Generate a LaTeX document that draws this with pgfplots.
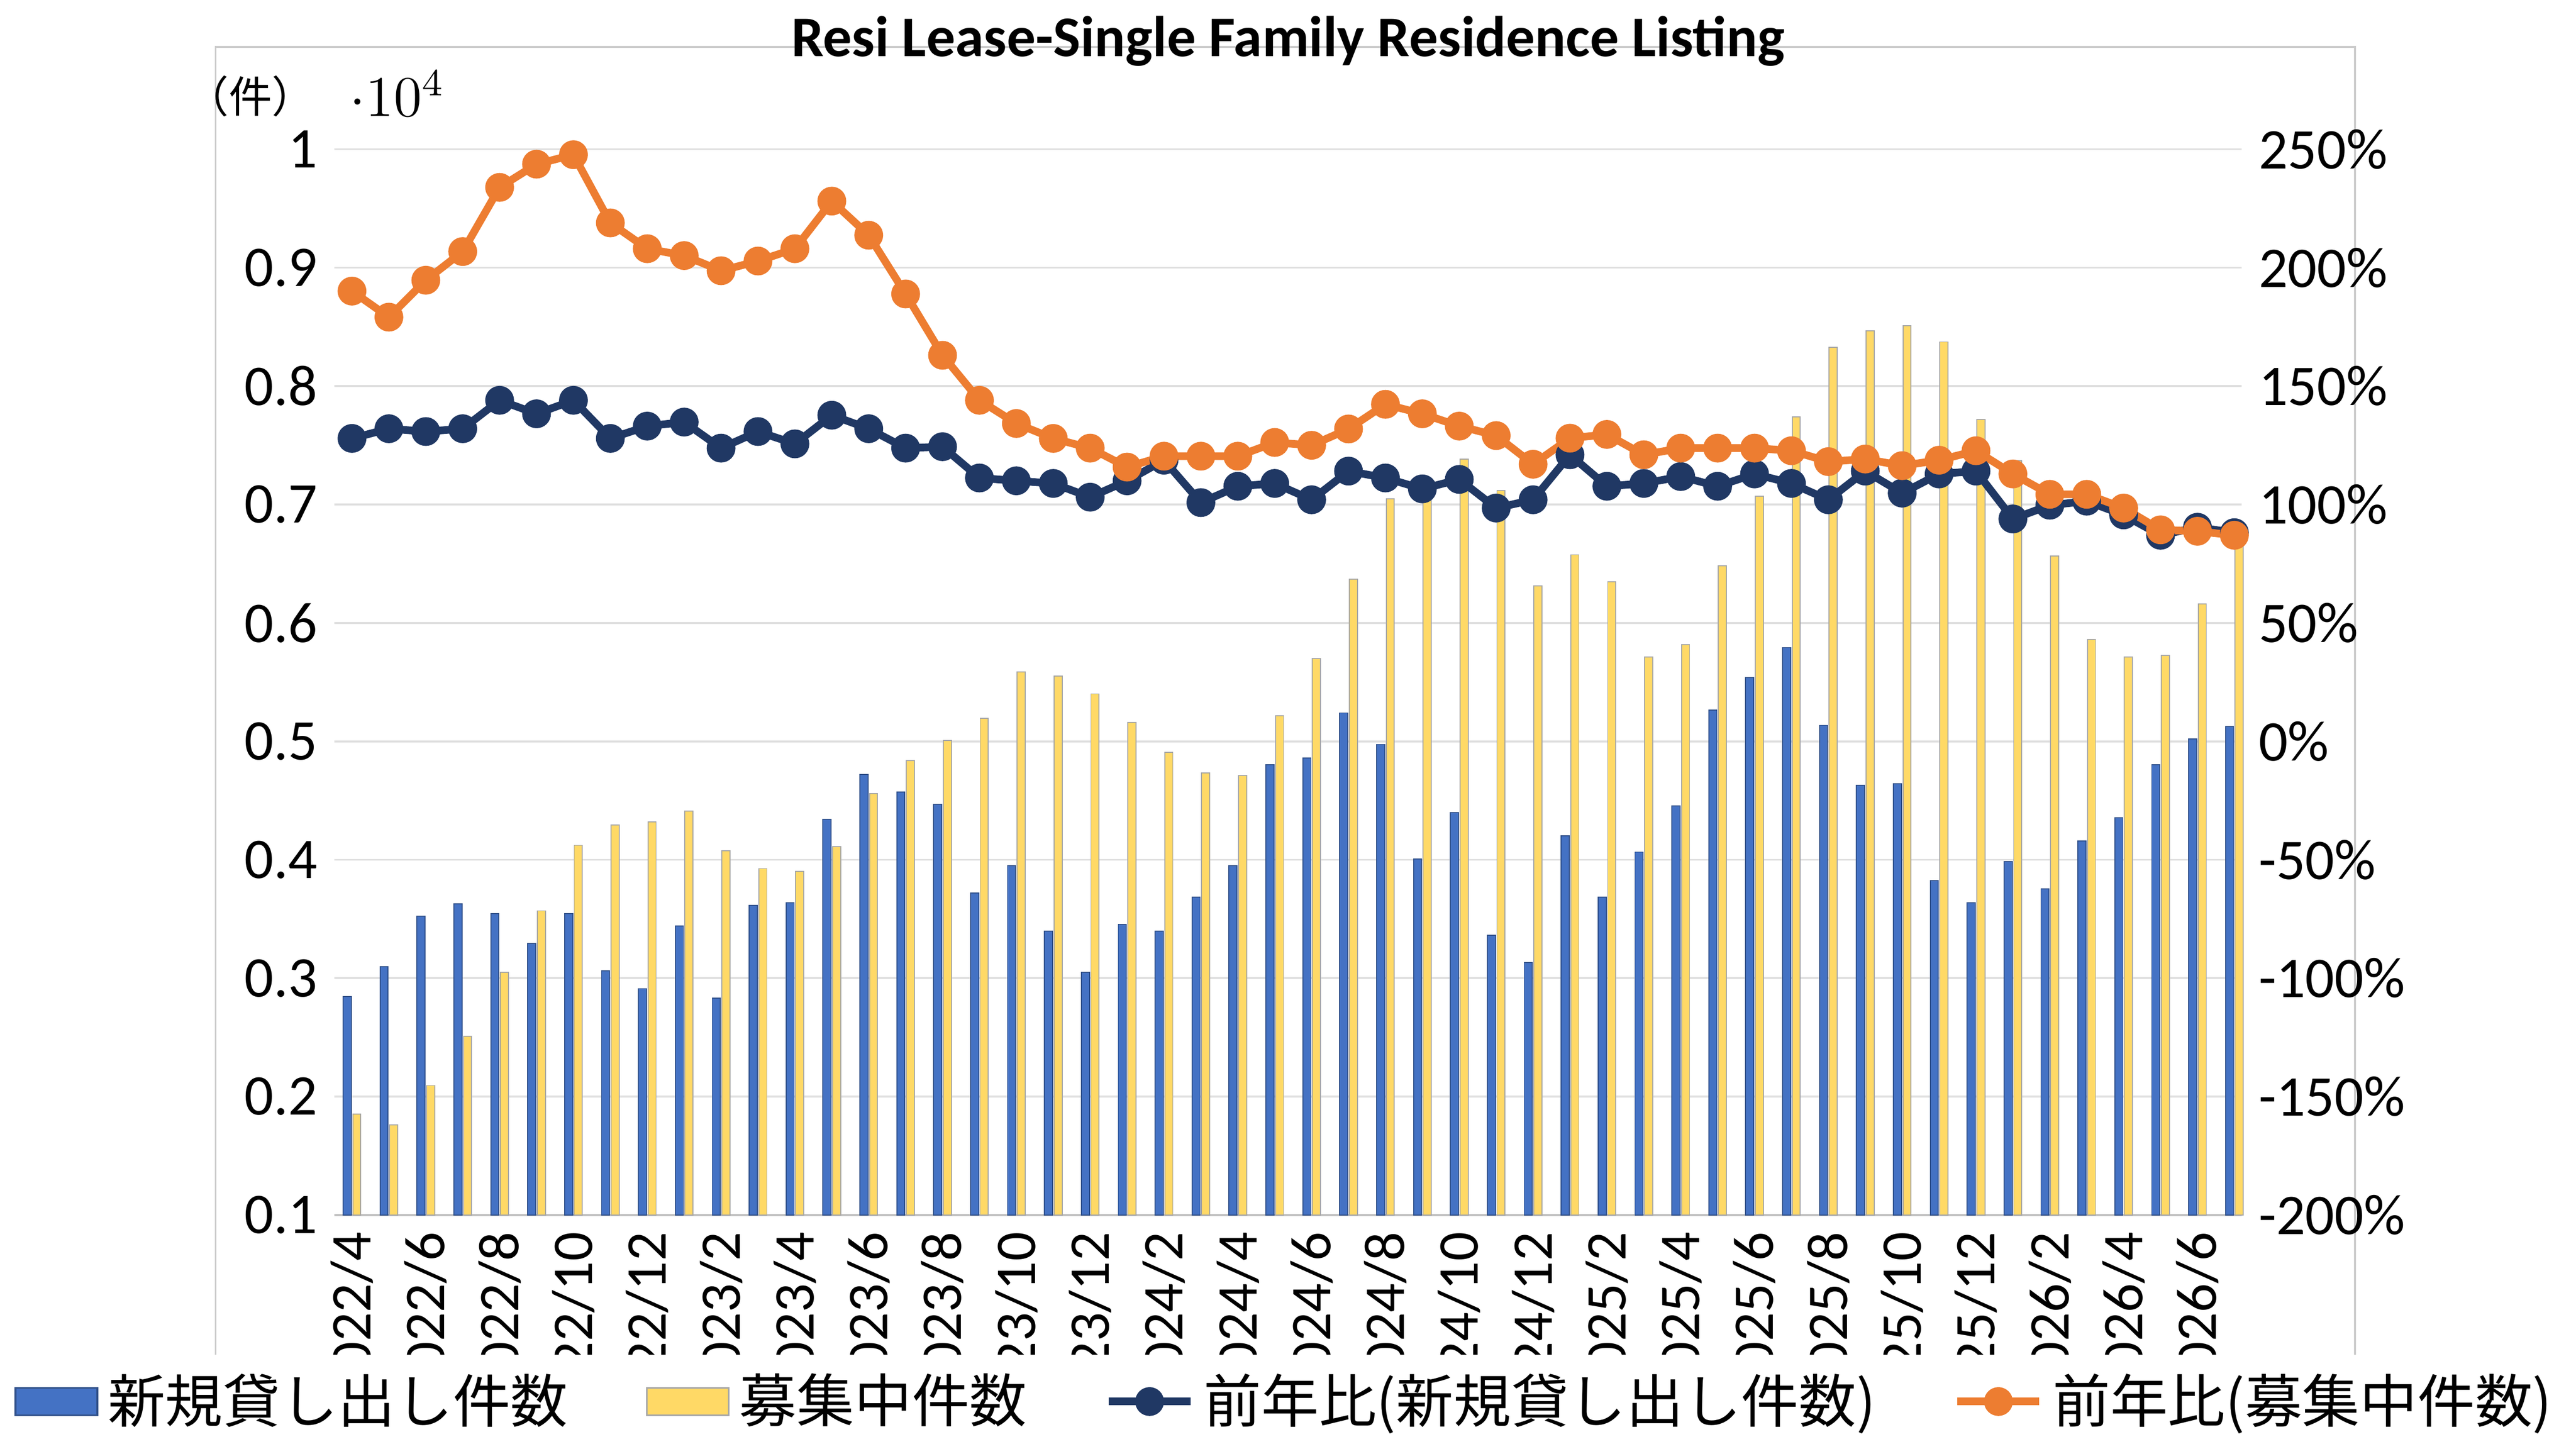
\documentclass[border=0pt]{standalone}
\usepackage{pgfplots}
\pgfplotsset{compat=1.18}
\usepackage{fontspec}
\setmainfont{Carlito}
\newfontfamily\cjk{Noto Sans CJK JP}
\definecolor{cblue}{HTML}{4472C4}
\definecolor{cyel}{HTML}{FFD966}
\definecolor{cnavy}{HTML}{203864}
\definecolor{corange}{HTML}{ED7D31}
\begin{document}
\begin{tikzpicture}
\draw[gray!40] (-0.87,-1.65) rectangle (14.81,8.56);
\begin{axis}[
 at={(0,0)}, anchor=south west, scale only axis,
 width=13.98cm, height=7.81cm,
 xmin=0.52, xmax=52.2, ymin=1000, ymax=10000,
 ytick={1000,2000,...,10000},
 /pgf/number format/assume math mode=true,
 /pgf/number format/fixed,
 /pgf/number format/1000 sep={,},
 xtick={1,3,...,51},
 xticklabels={2022/4,2022/6,2022/8,2022/10,2022/12,2023/2,2023/4,2023/6,2023/8,2023/10,2023/12,2024/2,2024/4,2024/6,2024/8,2024/10,2024/12,2025/2,2025/4,2025/6,2025/8,2025/10,2025/12,2026/2,2026/4,2026/6},
 xticklabel style={rotate=90, anchor=east, font=\large},
 yticklabel style={font=\large},
 tick style={draw=none},
 axis line style={draw=none},
 ymajorgrids, grid style={gray!25},
 axis x line*=bottom,
 x axis line style={draw=gray!50},
 title={\bfseries\large Resi Lease-Single Family Residence Listing},
 title style={at={(0.5,1.035)},anchor=south},
 clip=false,
]
\addplot[ybar, bar width=0.22, bar shift=-0.13, fill=cblue, draw=cblue!70!black, line width=0.2pt] coordinates {
(1,2843)(2,3097)(3,3523)(4,3627)(5,3546)(6,3293)(7,3546)(8,3062)(9,2912)(10,3442)
(11,2832)(12,3615)(13,3638)(14,4341)(15,4721)(16,4571)(17,4468)(18,3719)(19,3949)(20,3396)
(21,3051)(22,3454)(23,3396)(24,3684)(25,3949)(26,4802)(27,4860)(28,5240)(29,4975)(30,4007)
(31,4399)(32,3362)(33,3131)(34,4203)(35,3684)(36,4065)(37,4456)(38,5263)(39,5539)(40,5793)
(41,5136)(42,4629)(43,4640)(44,3823)(45,3638)(46,3984)(47,3753)(48,4157)(49,4353)(50,4802)
(51,5021)(52,5124)};
\addplot[ybar, bar width=0.22, bar shift=0.13, fill=cyel, draw=gray!70, line width=0.2pt] coordinates {
(1,1853)(2,1760)(3,2094)(4,2509)(5,3051)(6,3569)(7,4122)(8,4295)(9,4318)(10,4410)
(11,4076)(12,3926)(13,3903)(14,4111)(15,4560)(16,4836)(17,5009)(18,5194)(19,5585)(20,5551)
(21,5401)(22,5159)(23,4906)(24,4733)(25,4710)(26,5217)(27,5700)(28,6369)(29,7048)(30,7175)
(31,7382)(32,7117)(33,6311)(34,6576)(35,6346)(36,5712)(37,5816)(38,6484)(39,7071)(40,7740)
(41,8327)(42,8465)(43,8512)(44,8373)(45,7717)(46,7371)(47,6565)(48,5862)(49,5712)(50,5724)
(51,6161)(52,6714)};
\node[anchor=center, font=\cjk\small] at (rel axis cs:-0.044,1.05) {（件）};
\end{axis}
\begin{axis}[
 at={(0,0)}, anchor=south west, scale only axis,
 width=13.98cm, height=7.81cm,
 xmin=0.52, xmax=52.2, ymin=-200, ymax=250,
 ytick={-200,-150,...,250},
 /pgf/number format/assume math mode=true,
 yticklabel={\pgfmathprintnumber{\tick}\%},
 yticklabel style={font=\large},
 axis y line*=right, axis x line=none,
 tick style={draw=none}, axis line style={draw=none},
 legend style={at={(0.5,-0.175)}, anchor=center, draw=none, font=\cjk\large, legend columns=4, /tikz/every even column/.append style={column sep=0.5cm}},
 legend cell align=left,
]
\addlegendimage{area legend, fill=cblue, draw=cblue!70!black}
\addlegendentry{新規貸し出し件数}
\addlegendimage{area legend, fill=cyel, draw=gray!70}
\addlegendentry{募集中件数}
\addplot[cnavy, line width=1.6pt, mark=*, mark size=2.2pt] coordinates {
(1,127.9)(2,132)(3,130.8)(4,132)(5,144)(6,138.3)(7,144)(8,127.9)(9,133.1)(10,134.8)
(11,123.8)(12,130.8)(13,125.6)(14,137.7)(15,132)(16,123.8)(17,124.4)(18,111.2)(19,110)(20,108.9)
(21,103.1)(22,110)(23,118.7)(24,100.8)(25,107.7)(26,108.9)(27,102)(28,114.1)(29,111.2)(30,106.6)
(31,110.6)(32,98.5)(33,102)(34,121)(35,107.7)(36,108.9)(37,111.8)(38,107.7)(39,112.9)(40,108.9)
(41,102)(42,114.1)(43,104.8)(44,112.9)(45,114.1)(46,93.9)(47,99.7)(48,101.4)(49,95.6)(50,87)
(51,90.4)(52,88.1)};
\addlegendentry{前年比(新規貸し出し件数)}
\addplot[corange, line width=1.6pt, mark=*, mark size=2.2pt] coordinates {
(1,190.1)(2,179.1)(3,194.7)(4,206.8)(5,233.9)(6,243.7)(7,247.7)(8,218.9)(9,208)(10,205.1)
(11,198.7)(12,202.8)(13,208)(14,228.1)(15,213.7)(16,188.9)(17,163)(18,144)(19,134.2)(20,127.9)
(21,123.8)(22,115.8)(23,120.4)(24,120.4)(25,120.4)(26,126.2)(27,125)(28,131.9)(29,142.3)(30,138.3)
(31,133.1)(32,129.1)(33,117)(34,128)(35,129.6)(36,121)(37,123.8)(38,123.8)(39,123.8)(40,122.7)
(41,118.1)(42,119.2)(43,116.4)(44,118.7)(45,122.7)(46,112.9)(47,104.3)(48,104.3)(49,98.5)(50,89.3)
(51,88.7)(52,87)};
\addlegendentry{前年比(募集中件数)}
\end{axis}
\end{tikzpicture}
\end{document}
